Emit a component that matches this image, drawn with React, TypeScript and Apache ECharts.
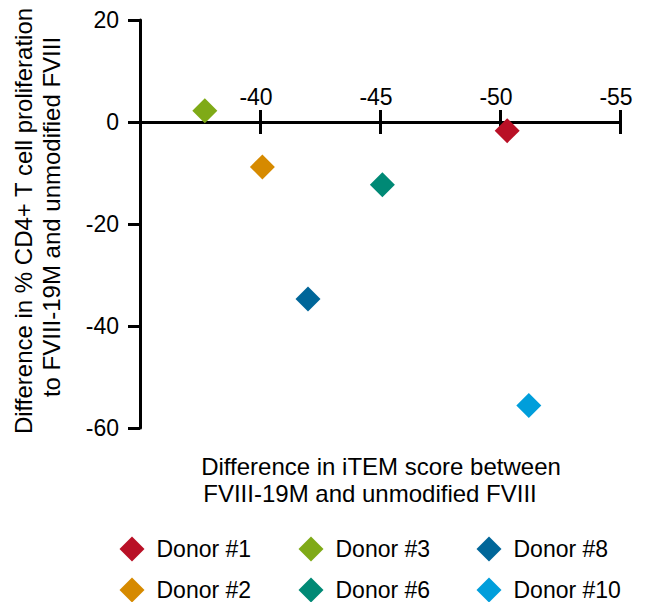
import React, { useEffect, useRef } from "react";
import * as echarts from "echarts";

// Donors and their measured differences: [iTEM score difference, % CD4+ proliferation difference]
const donors = ["Donor #1", "Donor #2", "Donor #3", "Donor #6", "Donor #8", "Donor #10"];
const donorColors = ["#B91026", "#D68A00", "#7FAA17", "#008975", "#006699", "#009EDB"];
const itemScoreDiff = [-50.3, -40.1, -37.7, -45.1, -42.0, -51.2];
const proliferationDiff = [-1.7, -8.8, 2.2, -12.3, -34.7, -55.6];

// Axis ranges and tick steps
const xRange = [-55, -35];
const xStep = 5;
const yRange = [-60, 20];
const yStep = 20;

// Legend columns
const legendColumns = [
  ["Donor #1", "Donor #2"],
  ["Donor #3", "Donor #6"],
  ["Donor #8", "Donor #10"],
];

const xTitle = ["Difference in iTEM score between", "FVIII-19M and unmodified FVIII"];
const yTitle = ["Difference in % CD4+ T cell proliferation", "to FVIII-19M and unmodified FVIII"];

const FONT = "'Liberation Sans', Arial, Helvetica, sans-serif";

export default function App() {
  const ref = useRef<HTMLDivElement>(null);

  useEffect(() => {
    if (!ref.current) return;
    const chart = echarts.init(ref.current, undefined, { renderer: "svg" });

    const black = { color: "#000", width: 3 };
    const plotLeft = 140;
    const plotTop = 20;
    const plotWidth = 480;
    const plotHeight = 408;
    // y = 0 sits at this pixel row inside the plot
    const zeroRow = plotTop + (plotHeight * yRange[1]) / (yRange[1] - yRange[0]);

    const xBase = {
      type: "value",
      inverse: true,
      min: xRange[0],
      max: xRange[1],
      interval: xStep,
      axisTick: { show: true, length: 12, lineStyle: black },
      splitLine: { show: false },
    };
    const hiddenY = {
      type: "value",
      min: yRange[0],
      max: 0,
      show: false,
      axisLine: { show: false, onZero: false },
      splitLine: { show: false },
    };

    const option: any = {
      animation: false,
      backgroundColor: "#fff",
      grid: [
        // main plot
        { left: plotLeft, top: plotTop, width: plotWidth, height: plotHeight, containLabel: false, outerBoundsMode: "none" },
        // lower half, whose top edge carries the upward ticks and labels of the x axis
        {
          left: plotLeft,
          top: zeroRow,
          width: plotWidth,
          height: plotTop + plotHeight - zeroRow,
          containLabel: false,
          outerBoundsMode: "none",
        },
      ],
      xAxis: [
        { ...xBase, gridIndex: 0, position: "bottom", axisLine: { onZero: true, lineStyle: black }, axisLabel: { show: false } },
        {
          ...xBase,
          gridIndex: 1,
          position: "top",
          axisLine: { onZero: false, lineStyle: black },
          axisLabel: {
            show: true,
            margin: 14,
            fontSize: 23,
            fontFamily: FONT,
            color: "#000",
            padding: [0, 8, 0, 0],
            formatter: (v: number) => (v === xRange[1] ? "" : String(v)),
          },
        },
      ],
      yAxis: [
        {
          type: "value",
          gridIndex: 0,
          min: yRange[0],
          max: yRange[1],
          interval: yStep,
          axisLine: { show: true, onZero: false, lineStyle: black },
          axisTick: { show: true, length: 12, lineStyle: black },
          axisLabel: { margin: 21, fontSize: 23, fontFamily: FONT, color: "#000" },
          splitLine: { show: false },
        },
        { ...hiddenY, gridIndex: 1 },
      ],
      legend: legendColumns.map((col, i) => ({
        data: col,
        orient: "vertical",
        left: [119.5, 298.5, 476.5][i],
        top: 536.5,
        height: 66,
        padding: 0,
        itemWidth: 25,
        itemHeight: 25,
        itemGap: 16,
        icon: "diamond",
        selectedMode: false,
        textStyle: { fontSize: 23, fontFamily: FONT, color: "#000", padding: [0, 0, 0, 7] },
      })),
      graphic: [
        ...xTitle.map((t, i) => ({
          type: "text",
          x: [381, 370][i],
          y: [466.5, 493.5][i],
          style: { text: t, font: `24px ${FONT}`, fill: "#000", align: "center", verticalAlign: "middle" },
        })),
        ...yTitle.map((t, i) => ({
          type: "text",
          x: [23, 51][i],
          y: [221, 217][i],
          rotation: Math.PI / 2,
          style: { text: t, font: `24px ${FONT}`, fill: "#000", align: "center", verticalAlign: "middle" },
        })),
      ],
      series: donors.map((name, i) => ({
        name,
        type: "scatter",
        xAxisIndex: 0,
        yAxisIndex: 0,
        symbol: "diamond",
        symbolSize: 25,
        itemStyle: { color: donorColors[i], opacity: 1 },
        data: [[itemScoreDiff[i], proliferationDiff[i]]],
      })),
    };

    chart.setOption(option);
    return () => chart.dispose();
  }, []);

  return (
    <div
      ref={ref}
      style={{ position: "fixed", left: 0, top: 0, width: 649, height: 602, background: "#fff" }}
    />
  );
}
